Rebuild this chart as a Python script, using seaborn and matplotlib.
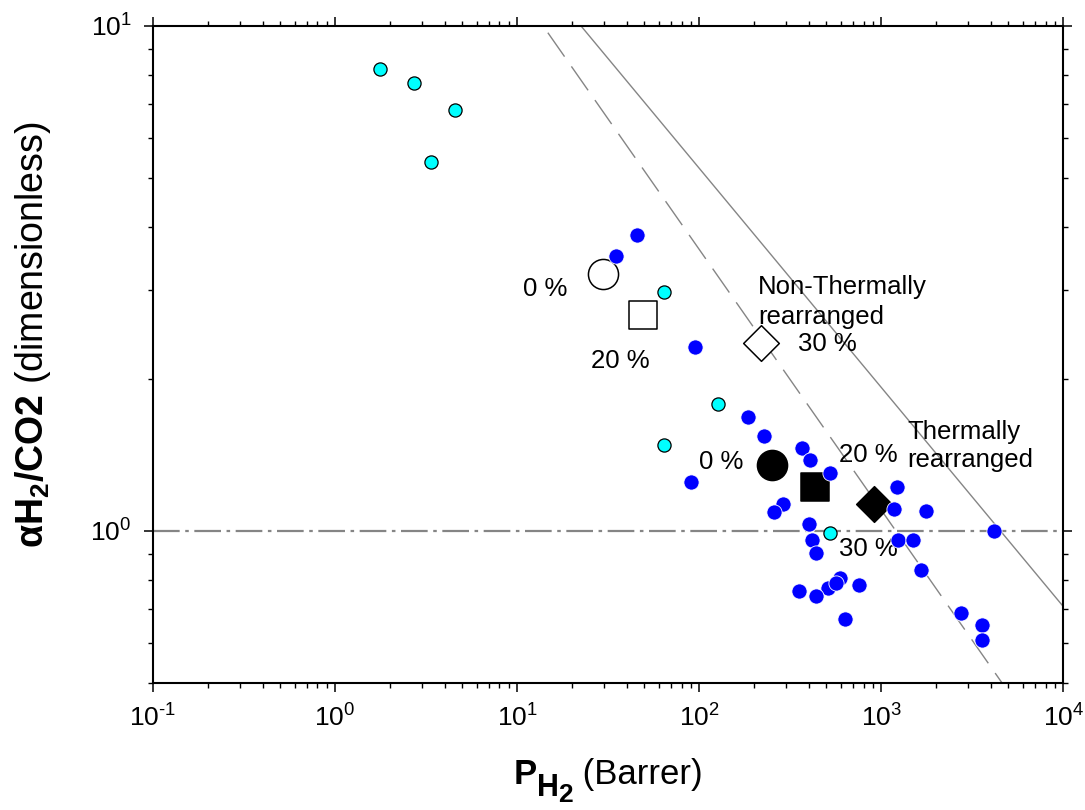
import numpy as np
import pandas as pd
import matplotlib
matplotlib.use("Agg")
import matplotlib.pyplot as plt
import seaborn as sns
from matplotlib.ticker import LogLocator, NullFormatter, FixedFormatter, FixedLocator
from matplotlib.transforms import IdentityTransform

# ---------------- data ----------------
cyan_x = [1.77, 2.72, 4.56, 3.37, 64.2, 127, 64.2, 524]
cyan_y = [8.22, 7.70, 6.81, 5.37, 2.97, 1.78, 1.48, 0.99]

blue_x = [45.6, 35.0, 95.1, 90.4, 186, 228, 368, 407, 525, 290, 258, 402, 418, 439,
          1225, 1178, 1767, 4180, 1240, 1500, 1660, 596, 757, 511, 566, 354, 439, 634,
          2750, 3590, 3590]
blue_y = [3.85, 3.51, 2.31, 1.25, 1.68, 1.54, 1.46, 1.38, 1.30, 1.13, 1.09, 1.03, 0.96, 0.904,
          1.22, 1.105, 1.096, 1.00, 0.96, 0.96, 0.837, 0.807, 0.781, 0.771, 0.789, 0.760, 0.743, 0.669,
          0.687, 0.651, 0.608]

series_kind = ["circle", "square", "diamond"]
open_x = [29.7, 49.2, 219]       # non-thermally rearranged 0 / 20 / 30 %
open_y = [3.22, 2.67, 2.35]
filled_x = [252, 434, 915]       # thermally rearranged 0 / 20 / 30 %
filled_y = [1.35, 1.22, 1.13]

# upper-bound lines (two end points each)
ub2008_x = [10, 10000]
ub2008_y = [14.2, 0.708]
ub1991_x = [10, 10000]
ub1991_y = [11.85, 0.335]
ref_alpha = 1.0

xtick_vals = [0.1, 1, 10, 100, 1000, 10000]
xtick_labels = [r"$10^{\text{-}1}$", "$10^{0}$", "$10^{1}$", "$10^{2}$", "$10^{3}$", "$10^{4}$"]
ytick_vals = [1, 10]
ytick_labels = ["$10^{0}$", "$10^{1}$"]

# ---------------- style ----------------
sns.set_style("ticks")
plt.rcParams["font.family"] = ["Liberation Sans", "DejaVu Sans"]
plt.rcParams["mathtext.fontset"] = "custom"
plt.rcParams["mathtext.rm"] = "Liberation Sans"
plt.rcParams["mathtext.it"] = "Liberation Sans:italic"
plt.rcParams["mathtext.bf"] = "Liberation Sans:bold"
plt.rcParams["mathtext.sf"] = "Liberation Sans"
plt.rcParams["mathtext.default"] = "regular"
plt.rcParams["axes.unicode_minus"] = False
for key in ["text.color", "axes.labelcolor", "xtick.color", "ytick.color", "axes.edgecolor"]:
    plt.rcParams[key] = "black"

fig = plt.figure(figsize=(10.85, 8.10), dpi=100)
ax = fig.add_axes([0.141, 0.157, 0.839, 0.811])
ax.set_xscale("log")
ax.set_yscale("log")

gray = "#858585"
sns.lineplot(x=ub2008_x, y=ub2008_y, ax=ax, color=gray, linewidth=1.0, zorder=1)
sns.lineplot(x=ub1991_x, y=ub1991_y, ax=ax, color=gray, linewidth=1.0,
             linestyle=(0, (21, 8.6)), zorder=1)
ax.axhline(ref_alpha, color=gray, linewidth=1.6, linestyle=(0, (12, 2.5, 1.6, 2.5)), zorder=1)

mk = {"circle": "o", "square": "s", "diamond": "D"}
sizes = {"circle": 470, "square": 380, "diamond": 330}
for xs, ys, face in [(open_x, open_y, "white"), (filled_x, filled_y, "black")]:
    for k, xv, yv in zip(series_kind, xs, ys):
        sns.scatterplot(x=[xv], y=[yv], ax=ax, marker=mk[k], s=sizes[k],
                        color=face, edgecolor="black", linewidth=1.1, zorder=3, legend=False)

sns.scatterplot(x=blue_x, y=blue_y, ax=ax, color="#0000FF", s=120,
                edgecolor="white", linewidth=0.6, zorder=4, legend=False)
sns.scatterplot(x=cyan_x, y=cyan_y, ax=ax, color="#00FFFF", s=90,
                edgecolor="black", linewidth=0.9, zorder=5, legend=False)

ax.set_xlim(0.1, 1e4)
ax.set_ylim(0.5, 10)

ax.xaxis.set_major_locator(FixedLocator(xtick_vals))
ax.xaxis.set_major_formatter(FixedFormatter(xtick_labels))
ax.yaxis.set_major_locator(FixedLocator(ytick_vals))
ax.yaxis.set_major_formatter(FixedFormatter(ytick_labels))
ax.xaxis.set_minor_locator(LogLocator(base=10, subs=np.arange(2, 10), numticks=20))
ax.yaxis.set_minor_locator(LogLocator(base=10, subs=np.arange(2, 10), numticks=20))
ax.xaxis.set_minor_formatter(NullFormatter())
ax.yaxis.set_minor_formatter(NullFormatter())

ax.tick_params(which="both", direction="out", top=True, right=True, colors="black")
ax.tick_params(which="major", length=6.5, width=1.1, labelsize=19, pad=9)
ax.tick_params(which="minor", length=3.6, width=1.0)
for sp in ax.spines.values():
    sp.set_linewidth(1.5)
    sp.set_color("black")

ax.set_ylabel(r"$\mathbf{αH_2/CO2}$ (dimensionless)", fontsize=27)
ax.yaxis.set_label_coords(-0.110, 0.530)

# x label assembled from pieces so the subscript keeps its size
fig.canvas.draw()
renderer = fig.canvas.get_renderer()
pieces = [("P", 25, "bold", 0), ("H", 22, "bold", -12), ("2", 19, "bold", -18),
          (" (Barrer)", 25, "normal", 0)]
base_y = 810 - 784
objs = []
xcur = 0.0
for txt, size, weight, dy in pieces:
    t = fig.text(xcur, base_y + dy, txt, fontsize=size, fontweight=weight,
                 ha="left", va="baseline", transform=IdentityTransform())
    bb = t.get_window_extent(renderer)
    objs.append(t)
    xcur = bb.x1
total = xcur
axbb = ax.get_window_extent(renderer)
shift = (axbb.x0 + axbb.x1) / 2 - total / 2
for t in objs:
    px, py = t.get_position()
    t.set_position((px + shift, py))

fs = 18.5
ax.text(14.3, 3.01, "0 %", fontsize=fs, ha="center", va="center")
ax.text(36.8, 2.17, "20 %", fontsize=fs, ha="center", va="center")
ax.text(211, 2.95, "Non-Thermally", fontsize=fs, ha="left", va="baseline")
ax.text(211, 2.57, "rearranged", fontsize=fs, ha="left", va="baseline")
ax.text(505, 2.34, "30 %", fontsize=fs, ha="center", va="center")
ax.text(132, 1.37, "0 %", fontsize=fs, ha="center", va="center")
ax.text(849, 1.415, "20 %", fontsize=fs, ha="center", va="center")
ax.text(1390, 1.522, "Thermally", fontsize=fs, ha="left", va="baseline")
ax.text(1390, 1.34, "rearranged", fontsize=fs, ha="left", va="baseline")
ax.text(849, 0.921, "30 %", fontsize=fs, ha="center", va="center")

fig.savefig("out.png", dpi=100)
